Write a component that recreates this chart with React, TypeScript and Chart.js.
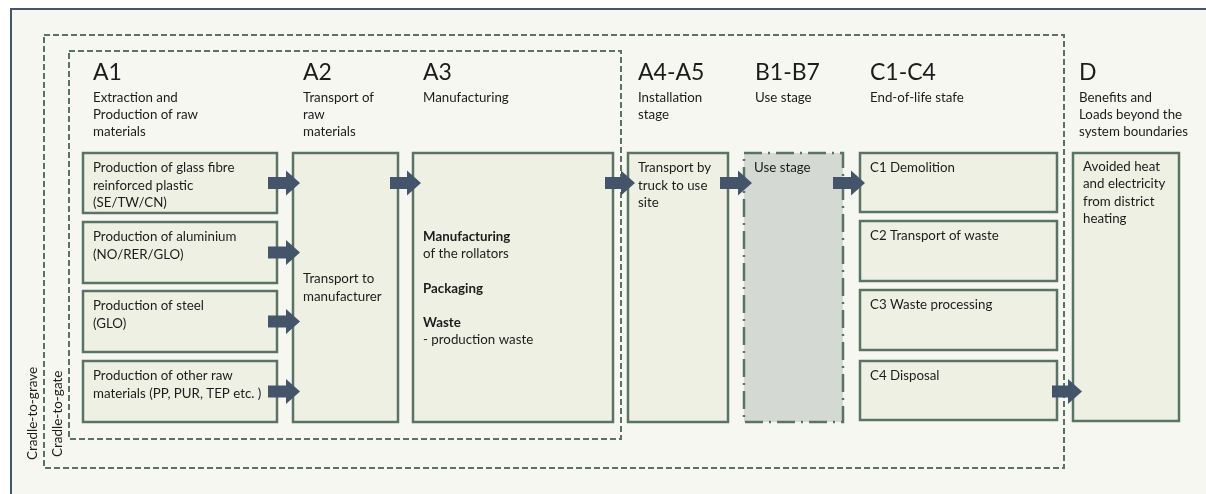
import React, { useEffect, useRef } from "react";
import { Chart, registerables } from "chart.js";

Chart.register(...registerables);

// ---------- content ----------
const stageCodes = ["A1", "A2", "A3", "A4-A5", "B1-B7", "C1-C4", "D"];
const stageDescriptions = [
  ["Extraction and", "Production of raw", "materials"],
  ["Transport of", "raw", "materials"],
  ["Manufacturing"],
  ["Installation", "stage"],
  ["Use stage"],
  ["End-of-life stafe"],
  ["Benefits and", "Loads beyond the", "system boundaries"],
];
const rawMaterialInputs = [
  ["Production of glass fibre", "reinforced plastic", "(SE/TW/CN)"],
  ["Production of aluminium", "(NO/RER/GLO)"],
  ["Production of steel", "(GLO)"],
  ["Production of other raw", "materials (PP, PUR, TEP etc. )"],
];
const transportToManufacturer = ["Transport to", "manufacturer"];
const manufacturingLines = ["Manufacturing", "of the rollators", "", "Packaging", "", "Waste", "- production waste"];
const manufacturingBold = [true, false, false, true, false, true, false];
const installationSteps = ["Transport by", "truck to use", "site"];
const useStageSteps = ["Use stage"];
const endOfLifeSteps = ["C1 Demolition", "C2 Transport of waste", "C3 Waste processing", "C4 Disposal"];
const beyondBoundaryBenefits = ["Avoided heat", "and electricity", "from district", "heating"];
const boundaryLabels = ["Cradle-to-grave", "Cradle-to-gate"];

// ---------- layout (scale units) ----------
const COLS = [[83, 277], [293, 398], [413, 613], [628, 728], [744, 843], [860, 1057], [1073, 1179]];
const HEAD_X = [93, 303, 423, 638, 755, 870, 1079];
const A_ROWS = [[153, 213], [222, 283], [291, 352], [361, 422]];
const C_ROWS = [[153, 212], [221, 281], [290, 350], [361, 420]];
const FULL = [153, 422];

const FONT = "Lato, 'Open Sans', sans-serif";
const TEXT = "#1c1c1c";
const BOX_FILL = "#eef0e3";
const BOX_LINE = "#5b7365";
const DASH_LINE = "#5b7365";
const ARROW = "#44546a";
const BODY = 13.3;

const diagramPlugin = {
  id: "diagram",
  beforeDraw(chart: any) {
    const ctx = chart.ctx as CanvasRenderingContext2D;
    const xs = chart.scales.x;
    const ys = chart.scales.y;
    const px = (v: number) => xs.getPixelForValue(v);
    const py = (v: number) => ys.getPixelForValue(v);

    ctx.save();
    // page background and frame
    ctx.fillStyle = "#ffffff";
    ctx.fillRect(0, 0, chart.width, chart.height);
    ctx.fillStyle = "#f6f7f1";
    ctx.fillRect(px(11), py(9), px(1220) - px(11), py(520) - py(9));
    ctx.strokeStyle = ARROW;
    ctx.lineWidth = 2;
    ctx.strokeRect(px(11), py(9), px(1220) - px(11), py(520) - py(9));

    // boundaries
    ctx.strokeStyle = DASH_LINE;
    ctx.lineWidth = 2;
    ctx.setLineDash([6, 3]);
    ctx.strokeRect(px(44), py(35), px(1064) - px(44), py(468) - py(35));
    ctx.strokeRect(px(69), py(51), px(621) - px(69), py(439) - py(51));
    ctx.setLineDash([]);

    const box = (x0: number, x1: number, y0: number, y1: number, fill = BOX_FILL) => {
      ctx.fillStyle = fill;
      ctx.fillRect(px(x0), py(y0), px(x1) - px(x0), py(y1) - py(y0));
      ctx.strokeStyle = BOX_LINE;
      ctx.lineWidth = 2.5;
      ctx.strokeRect(px(x0), py(y0), px(x1) - px(x0), py(y1) - py(y0));
    };
    const lines = (arr: string[], x: number, y: number, lh = 17.5, size = BODY, bold?: boolean[]) => {
      ctx.fillStyle = TEXT;
      ctx.textAlign = "left";
      ctx.textBaseline = "alphabetic";
      arr.forEach((t, i) => {
        ctx.font = `${bold && bold[i] ? "bold " : ""}${size}px ${FONT}`;
        ctx.fillText(t, px(x), py(y + i * lh));
      });
    };
    const arrow = (x0: number, x1: number, y: number) => {
      const head = 14;
      ctx.fillStyle = ARROW;
      ctx.beginPath();
      ctx.moveTo(px(x0), py(y - 6));
      ctx.lineTo(px(x1 - head), py(y - 6));
      ctx.lineTo(px(x1 - head), py(y - 12.5));
      ctx.lineTo(px(x1), py(y));
      ctx.lineTo(px(x1 - head), py(y + 12.5));
      ctx.lineTo(px(x1 - head), py(y + 6));
      ctx.lineTo(px(x0), py(y + 6));
      ctx.closePath();
      ctx.fill();
    };

    // headers
    stageCodes.forEach((c, i) => {
      ctx.fillStyle = TEXT;
      ctx.font = `23px ${FONT}`;
      ctx.textAlign = "left";
      ctx.textBaseline = "alphabetic";
      ctx.fillText(c, px(HEAD_X[i]), py(80));
      lines(stageDescriptions[i], HEAD_X[i], 102, 17, BODY);
    });

    // A1 boxes
    rawMaterialInputs.forEach((t, i) => {
      box(COLS[0][0], COLS[0][1], A_ROWS[i][0], A_ROWS[i][1]);
      lines(t, COLS[0][0] + 10, A_ROWS[i][0] + 19);
    });
    // A2
    box(COLS[1][0], COLS[1][1], FULL[0], FULL[1]);
    lines(transportToManufacturer, COLS[1][0] + 10, 283);
    // A3
    box(COLS[2][0], COLS[2][1], FULL[0], FULL[1]);
    lines(manufacturingLines, COLS[2][0] + 10, 241, 17.2, BODY, manufacturingBold);
    // A4-A5
    box(COLS[3][0], COLS[3][1], FULL[0], FULL[1]);
    lines(installationSteps, COLS[3][0] + 10, FULL[0] + 19);
    // B use stage (dash-dot)
    ctx.fillStyle = "#d4d9d3";
    ctx.fillRect(px(COLS[4][0]), py(FULL[0]), px(COLS[4][1]) - px(COLS[4][0]), py(FULL[1]) - py(FULL[0]));
    ctx.strokeStyle = BOX_LINE;
    ctx.lineWidth = 2.5;
    ctx.setLineDash([18, 6, 2, 6]);
    ctx.strokeRect(px(COLS[4][0]), py(FULL[0]), px(COLS[4][1]) - px(COLS[4][0]), py(FULL[1]) - py(FULL[0]));
    ctx.setLineDash([]);
    lines(useStageSteps, COLS[4][0] + 10, FULL[0] + 19);
    // C boxes
    endOfLifeSteps.forEach((t, i) => {
      box(COLS[5][0], COLS[5][1], C_ROWS[i][0], C_ROWS[i][1]);
      lines([t], COLS[5][0] + 10, C_ROWS[i][0] + 19);
    });
    // D
    box(COLS[6][0], COLS[6][1], 153, 421);
    lines(beyondBoundaryBenefits, COLS[6][0] + 10, 170.5);

    // arrows
    A_ROWS.forEach((r) => arrow(COLS[0][1] - 9, COLS[1][0] + 7, (r[0] + r[1]) / 2));
    const topY = (A_ROWS[0][0] + A_ROWS[0][1]) / 2;
    arrow(COLS[1][1] - 8, COLS[2][0] + 8, topY);
    arrow(COLS[2][1] - 8, COLS[3][0] + 7, topY);
    arrow(COLS[3][1] - 8, COLS[4][0] + 8, topY);
    arrow(COLS[4][1] - 10, COLS[5][0] + 5, topY);
    arrow(COLS[5][1] - 5, COLS[6][0] + 9, (C_ROWS[3][0] + C_ROWS[3][1]) / 2 + 1);

    // side labels
    ctx.fillStyle = TEXT;
    ctx.font = `13.5px ${FONT}`;
    ctx.textAlign = "left";
    ctx.textBaseline = "middle";
    [[33, 460], [58, 457]].forEach(([x, y], i) => {
      ctx.save();
      ctx.translate(px(x), py(y));
      ctx.rotate(-Math.PI / 2);
      ctx.fillText(boundaryLabels[i], 0, 0);
      ctx.restore();
    });
    ctx.restore();
  },
};

export default function App() {
  const ref = useRef<HTMLCanvasElement | null>(null);
  useEffect(() => {
    if (!ref.current) return;
    const chart = new Chart(ref.current, {
      type: "scatter",
      data: { datasets: [{ data: [], pointRadius: 0 }] },
      options: {
        animation: false,
        responsive: true,
        maintainAspectRatio: false,
        layout: { padding: 0 },
        plugins: { legend: { display: false }, tooltip: { enabled: false } },
        scales: {
          x: { type: "linear", min: 0, max: 1206, display: false },
          y: { type: "linear", min: 0, max: 494, reverse: true, display: false },
        },
      },
      plugins: [diagramPlugin],
    });
    return () => chart.destroy();
  }, []);
  return (
    <div style={{ position: "absolute", left: 0, top: 0, width: 1206, height: 494 }}>
      <canvas ref={ref} />
    </div>
  );
}
